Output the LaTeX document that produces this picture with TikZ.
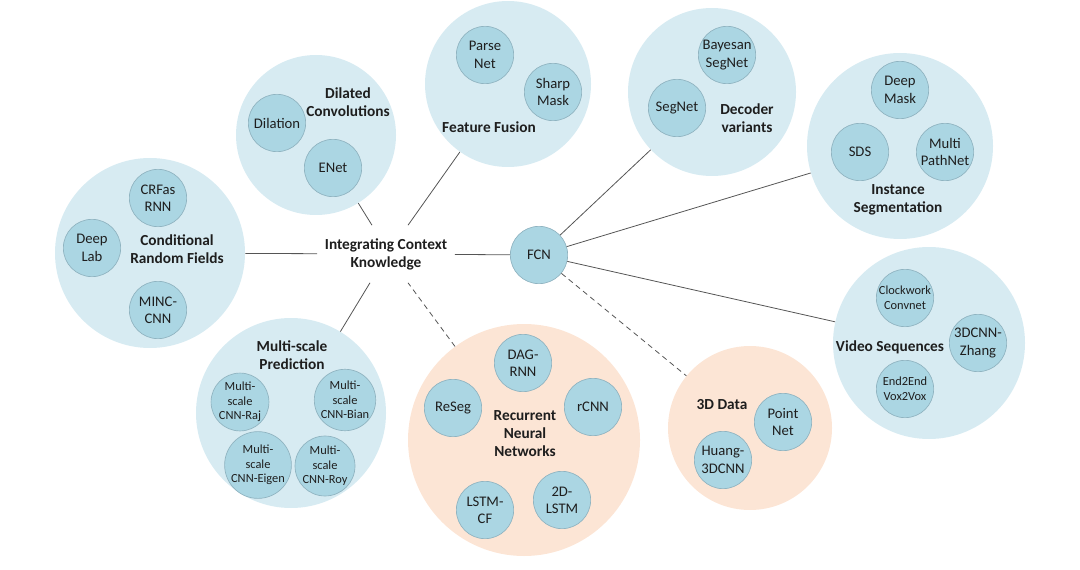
\documentclass[tikz,border=0pt]{standalone}
\usepackage{fontspec}
\setmainfont{Carlito}
\usetikzlibrary{calc}
\definecolor{bigblue}{HTML}{D7EBF2}
\definecolor{bigorange}{HTML}{FCE5D5}
\definecolor{smblue}{HTML}{ABD6E3}
\definecolor{smborder}{HTML}{8FB3C0}
\definecolor{linegray}{HTML}{555555}
\definecolor{txt}{HTML}{1E1E1E}
\tikzset{
  bigc/.style={circle, fill=bigblue, minimum size=#1*1.5pt, inner sep=0pt},
  bigo/.style={circle, fill=bigorange, minimum size=#1*1.5pt, inner sep=0pt},
  smc/.style={circle, fill=smblue, draw=smborder, line width=0.5pt, minimum size=43pt, inner sep=0pt, align=center, text=txt, font=\fontsize{11}{13}\selectfont},
  tinyc/.style={smc, font=\fontsize{9.3}{11}\selectfont},
  lab/.style={font=\bfseries\fontsize{11.5}{13.5}\selectfont, align=center, text=txt, inner sep=0pt},
  link/.style={draw=linegray, line width=0.6pt},
  dlink/.style={link, dash pattern=on 4pt off 3pt},
}
\begin{document}
\begin{tikzpicture}[x=0.75pt, y=-0.75pt]
\useasboundingbox (0,0) rectangle (1080,570);
% big circles
\node[bigc=95] (crf) at (150,253) {};
\node[bigc=80] (dil) at (316,135) {};
\node[bigc=83] (ff) at (508,84) {};
\node[bigc=84] (dec) at (712,92) {};
\node[bigc=93] (ins) at (900,146) {};
\node[bigc=96] (vid) at (929,343) {};
\node[bigc=95] (ms) at (291,413) {};
\node[bigo=116] (rnn) at (524,440) {};
\node[bigo=82] (td) at (750,428) {};
% central
\node[lab, inner sep=0pt, minimum width=137*0.75pt, minimum height=57*0.75pt] (ick) at (386,254) {Integrating Context\\Knowledge};
\node[smc] (fcn) at (539,255) {FCN};
\coordinate (ickTL) at ($(ick.north)+(-14,0)$);
\coordinate (ickTR) at ($(ick.north)+(22,0)$);
\coordinate (ickBL) at ($(ick.south)+(-16,0)$);
\coordinate (ickBR) at ($(ick.south)+(22,0)$);
% connectors
\draw[link] (crf) -- (ick);
\draw[link] (dil) -- (ickTL);
\draw[link] (ff) -- (ickTR);
\draw[link] (ms) -- (ickBL);
\draw[dlink] (rnn) -- (ickBR);
\draw[link] (ick) -- (fcn);
\draw[link] (fcn) -- (dec);
\draw[link] (fcn) -- (ins);
\draw[link] (fcn) -- (vid);
\draw[dlink] (fcn) -- (td);
% CRF
\node[smc] (crfrnn) at (158,198) {CRFas\\RNN};
\node[smc] (deeplab) at (92,248) {Deep\\Lab};
\node[smc] (minc) at (158,310) {MINC-\\CNN};
\node[lab] (crfl) at (177,249) {Conditional\\Random Fields};
% Dilated
\node[smc] (dilation) at (277,123) {Dilation};
\node[smc] (enet) at (333,168) {ENet};
\node[lab] (dill) at (348,102) {Dilated\\Convolutions};
% Feature fusion
\node[smc] (parse) at (485,55) {Parse\\Net};
\node[smc] (sharp) at (553,92) {Sharp\\Mask};
\node[lab] (ffl) at (489,127) {Feature Fusion};
% Decoder
\node[smc] (bayes) at (727,55) {Bayesan\\SegNet};
\node[smc] (segnet) at (677,108) {SegNet};
\node[lab] (decl) at (747,118) {Decoder\\variants};
% Instance
\node[smc] (deepmask) at (900,90) {Deep\\Mask};
\node[smc] (sds) at (860,152) {SDS};
\node[smc] (mpn) at (945,152) {Multi\\PathNet};
\node[lab] (insl) at (898,200) {Instance\\Segmentation};
% Video
\node[tinyc] (clock) at (905,298) {Clockwork\\Convnet};
\node[smc] (zhang) at (978,343) {3DCNN-\\Zhang};
\node[tinyc] (e2e) at (905,389) {End2End\\Vox2Vox};
\node[lab] (vidl) at (890,347) {Video Sequences};
% Multi-scale
\node[lab] (msl) at (292,355) {Multi-scale\\Prediction};
\node[tinyc] (raj) at (240,402) {Multi-\\scale\\CNN-Raj};
\node[tinyc] (bian) at (345,400) {Multi-\\scale\\CNN-Bian};
\node[tinyc] (eigen) at (258,465) {Multi-\\scale\\CNN-Eigen};
\node[tinyc] (roy) at (325,466) {Multi-\\scale\\CNN-Roy};
% RNN
\node[smc] (dag) at (523,363) {DAG-\\RNN};
\node[smc] (reseg) at (453,408) {ReSeg};
\node[smc] (rcnn) at (593,407) {rCNN};
\node[smc] (lstmcf) at (485,510) {LSTM-\\CF};
\node[smc] (lstm2d) at (562,500) {2D-\\LSTM};
\node[lab] (rnnl) at (525,434) {Recurrent\\Neural\\Networks};
% 3D
\node[smc] (point) at (783,422) {Point\\Net};
\node[smc] (huang) at (723,460) {Huang-\\3DCNN};
\node[lab] (tdl) at (722,405) {3D Data};
\end{tikzpicture}
\end{document}
